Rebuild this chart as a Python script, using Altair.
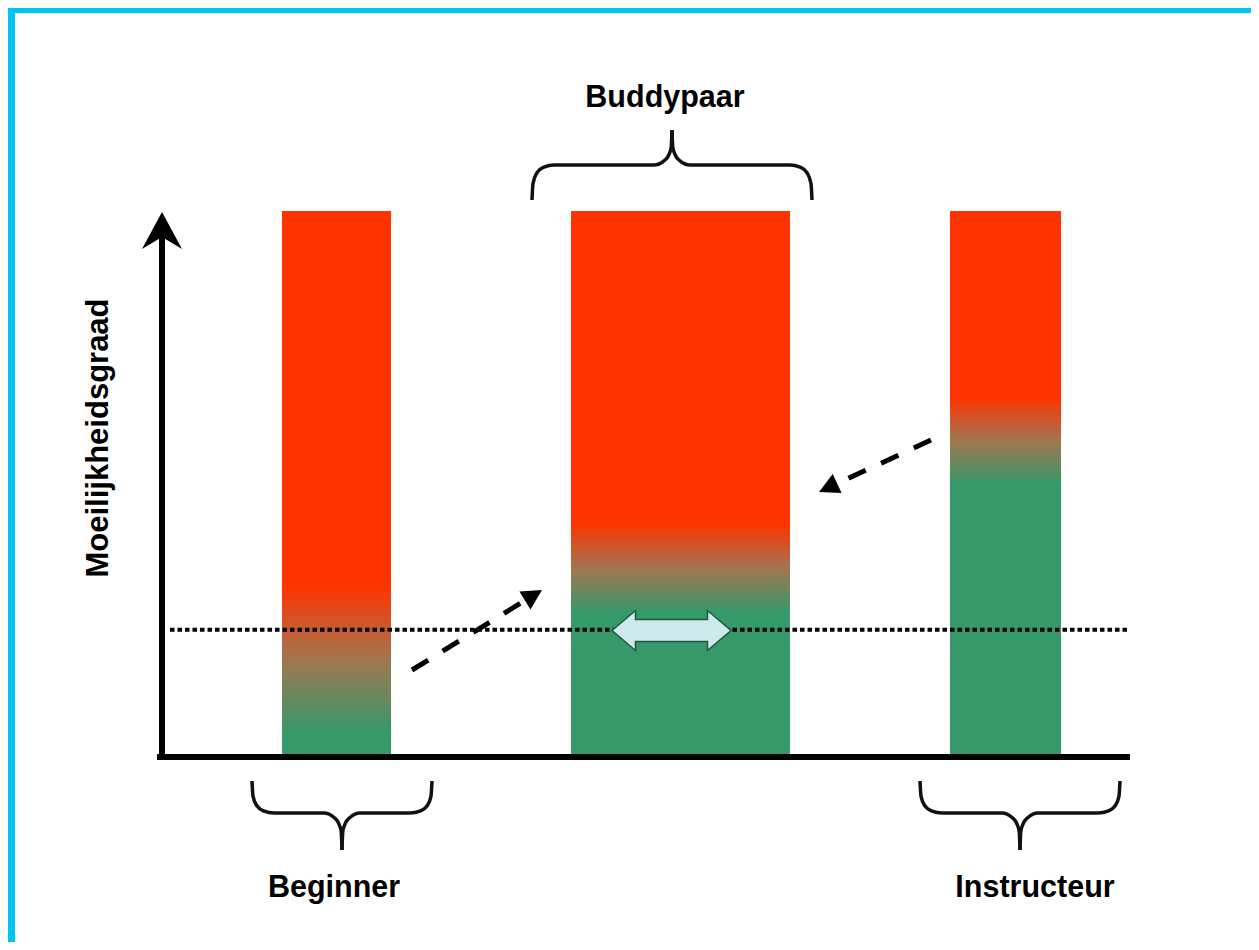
import math
import altair as alt
import pandas as pd

# ---------------- data ----------------
bar_names = ["Beginner", "Buddypaar", "Instructeur"]
bar_left = [282, 571, 950]          # horizontal position units
bar_right = [391, 790, 1061]
bar_top = [100, 100, 100]           # difficulty level (0 = base, 100 = top)
red_until = [31.5, 42.8, 66.0]      # fully red above this level
green_below = [4.5, 26.5, 50.0]     # fully green below this level
threshold_level = 23.3              # dotted reference line
threshold_x = [170, 1130]

label_text = ["Buddypaar", "Beginner", "Instructeur"]
label_x = [665, 334, 1035]
label_y_img = [107, 897, 897]
y_title = "Moeilijkheidsgraad"

# braces: left end x, right end x, end y, middle y, tip y (picture units)
brace_xl = [532, 252, 920]
brace_xr = [812, 432, 1120]
brace_yend = [200, 781, 781]
brace_ymid = [165, 813, 813]
brace_ytip = [130, 850, 850]

# dashed arrows: start and tip (picture units)
arrow_start = [(412, 670), (931, 440)]
arrow_tip = [(542, 590), (819, 492)]

RED = "#FF3300"
MID = "#A27650"
GREEN = "#35996A"
CYAN = "#00C4F4"

# ---------------- layout ----------------
W, H = 1243, 934
X0, Y0 = 8, 8
BASE = 757.0
PX = 5.46


def lv(img_y):
    return (BASE - img_y) / PX


xs = alt.Scale(domain=[X0, X0 + W], nice=False, zero=False)
ys = alt.Scale(domain=[lv(Y0 + H), lv(Y0)], nice=False, zero=False)


def X(f="x"):
    return alt.X(f"{f}:Q", scale=xs, axis=None)


def Y(f="y"):
    return alt.Y(f"{f}:Q", scale=ys, axis=None)


layers = []

# cyan frame strips
frame = pd.DataFrame({
    "x": [X0, X0], "x2": [X0 + 7, X0 + W],
    "y": [lv(Y0 + H), lv(Y0 + 5)], "y2": [lv(Y0), lv(Y0)],
})
layers.append(alt.Chart(frame).mark_rect(color=CYAN).encode(
    x=X(), x2="x2:Q", y=Y(), y2="y2:Q"))

# gradient bars
for i, name in enumerate(bar_names):
    top = bar_top[i]
    o_red = (top - red_until[i]) / top
    o_green = (top - green_below[i]) / top
    grad = alt.Gradient(
        gradient="linear", x1=0, y1=0, x2=0, y2=1,
        stops=[alt.GradientStop(color=RED, offset=0),
               alt.GradientStop(color=RED, offset=o_red),
               alt.GradientStop(color=MID, offset=(o_red + o_green) / 2),
               alt.GradientStop(color=GREEN, offset=o_green),
               alt.GradientStop(color=GREEN, offset=1)])
    df = pd.DataFrame({"x": [bar_left[i]], "x2": [bar_right[i]],
                       "y": [0], "y2": [top], "name": [name]})
    layers.append(alt.Chart(df).mark_rect(fill=grad).encode(
        x=X(), x2="x2:Q", y=Y(), y2="y2:Q"))

# dotted threshold line
dot = pd.DataFrame({"x": [threshold_x[0]], "x2": [threshold_x[1]], "y": [threshold_level]})
layers.append(alt.Chart(dot).mark_rule(color="black", strokeWidth=4, strokeDash=[4.5, 3]).encode(
    x=X(), x2="x2:Q", y=Y()))

# double arrow on the threshold
dbl_path = "M-59.5,0 L-36,-20 L-36,-11 L36,-11 L36,-20 L59.5,0 L36,20 L36,11 L-36,11 L-36,20 Z"
dbl = pd.DataFrame({"x": [671.5], "y": [lv(630.5)]})
layers.append(alt.Chart(dbl).mark_point(
    shape=dbl_path, size=4, filled=True, fill="#CFE9EA", stroke="#1E5A3C",
    strokeWidth=1.5, opacity=1).encode(x=X(), y=Y()))

# axes
xaxis = pd.DataFrame({"x": [157], "x2": [1130], "y": [0]})
layers.append(alt.Chart(xaxis).mark_rule(color="black", strokeWidth=6).encode(
    x=X(), x2="x2:Q", y=Y()))
yaxis = pd.DataFrame({"x": [162], "y": [lv(760)], "y2": [lv(236)]})
layers.append(alt.Chart(yaxis).mark_rule(color="black", strokeWidth=6).encode(
    x=X(), y=Y(), y2="y2:Q"))
yhead_path = "M0,-19 L20,18 L0,6 L-20,18 Z"
yhead = pd.DataFrame({"x": [162], "y": [lv(231)]})
layers.append(alt.Chart(yhead).mark_point(
    shape=yhead_path, size=4, filled=True, color="black", opacity=1, strokeWidth=0).encode(
    x=X(), y=Y()))

# dashed arrows
head_len = 20.0
arow_rows, head_rows = [], []
for k, ((sx, sy), (tx, ty)) in enumerate(zip(arrow_start, arrow_tip)):
    dx, dy = tx - sx, ty - sy
    L = math.hypot(dx, dy)
    ux, uy = dx / L, dy / L
    bx, by = tx - ux * (head_len - 1), ty - uy * (head_len - 1)
    arow_rows.append({"x": sx, "y": lv(sy), "x2": bx, "y2": lv(by)})
    cx, cy = tx - ux * 13, ty - uy * 13
    ang = math.degrees(math.atan2(ux, -uy)) % 360
    head_rows.append({"x": cx, "y": lv(cy), "ang": ang})
layers.append(alt.Chart(pd.DataFrame(arow_rows)).mark_rule(
    color="black", strokeWidth=5, strokeDash=[19, 17]).encode(
    x=X(), y=Y(), x2="x2:Q", y2="y2:Q"))
layers.append(alt.Chart(pd.DataFrame(head_rows)).mark_point(
    shape="M0,-13 L10.5,7 L-10.5,7 Z", size=4, filled=True, color="black",
    opacity=1, strokeWidth=0).encode(
    x=X(), y=Y(), angle=alt.Angle("ang:Q", scale=None)))

# braces
brace_rows = []
for b in range(len(brace_xl)):
    xl, xr = brace_xl[b], brace_xr[b]
    ye, ym, yt = brace_yend[b], brace_ymid[b], brace_ytip[b]
    d1, d2 = ym - ye, yt - ym
    xc = (xl + xr) / 2
    left = [(xl, ye), (xl + 1, ye + 0.47 * d1), (xl + 5, ye + 0.78 * d1),
            (xl + 12, ye + 0.94 * d1), (xl + 22, ym),
            (xc - 18, ym), (xc - 8, ym + 0.12 * d2), (xc - 3, ym + 0.3 * d2),
            (xc - 0.8, ym + 0.5 * d2), (xc, yt)]
    right = [(2 * xc - x, y) for (x, y) in reversed(left)]
    for side, pts in (("L", left), ("R", right)):
        for j, (x, y) in enumerate(pts):
            brace_rows.append({"part": f"{b}{side}", "idx": j, "x": x, "y": lv(y)})
layers.append(alt.Chart(pd.DataFrame(brace_rows)).mark_line(
    color="#111111", strokeWidth=3.5, interpolate="monotone").encode(
    x=X(), y=Y(), detail="part:N", order="idx:Q"))

# labels
lab = pd.DataFrame({"t": label_text, "x": label_x, "y": [lv(v) for v in label_y_img]})
layers.append(alt.Chart(lab).mark_text(
    font="Liberation Sans", fontWeight="bold", fontSize=30.5, color="black",
    align="center", baseline="alphabetic").encode(x=X(), y=Y(), text="t:N"))
ytl = pd.DataFrame({"t": [y_title], "x": [108], "y": [lv(438)]})
layers.append(alt.Chart(ytl).mark_text(
    font="Liberation Sans", fontWeight="bold", fontSize=31, color="black",
    align="center", baseline="alphabetic", angle=270).encode(x=X(), y=Y(), text="t:N"))

chart = alt.layer(*layers).properties(
    width=W, height=H, padding=0, autosize="none", background="white"
).configure_view(stroke=None)

chart.save("out.html", embed_options={"renderer": "svg", "actions": False})
